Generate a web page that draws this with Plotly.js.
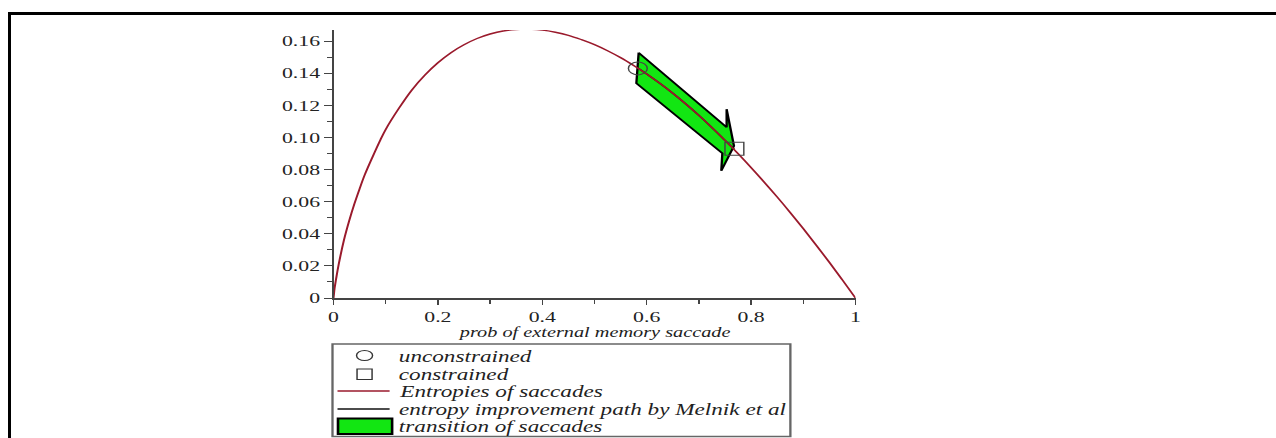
<!DOCTYPE html>
<html>
<head>
<meta charset="utf-8">
<script src="https://cdn.plot.ly/plotly-3.0.1.min.js"></script>
<style>
  html, body { margin: 0; padding: 0; background: #fff; overflow: hidden; }
  #wrap { position: absolute; left: 0; top: 0; width: 1276px; height: 438px; overflow: hidden; }
  #chart { position: absolute; left: 0; top: 0; transform-origin: 0 0; }
  #bl { position: absolute; left: 8px; top: 12px; width: 3px; height: 430px; background: #000; }
  #bt { position: absolute; left: 8px; top: 12px; width: 1280px; height: 2.5px; background: #000; }
</style>
</head>
<body>
<div id="wrap">
  <div id="chart"></div>
  <div id="bl"></div>
  <div id="bt"></div>
</div>
<script>
// ---- data ----
const probX = [0, 0.001, 0.002, 0.003, 0.005, 0.01, 0.02, 0.03, 0.04, 0.05, 0.06, 0.075, 0.09, 0.1, 0.125, 0.15, 0.175, 0.2, 0.225, 0.25, 0.275, 0.3, 0.325, 0.35, 0.375, 0.4, 0.425, 0.45, 0.475, 0.5, 0.525, 0.55, 0.575, 0.6, 0.625, 0.65, 0.675, 0.7, 0.725, 0.75, 0.775, 0.8, 0.825, 0.85, 0.875, 0.9, 0.925, 0.95, 0.975, 1];
const entropyY = [0, 0.003, 0.006, 0.008, 0.012, 0.021, 0.036, 0.048, 0.0586, 0.068, 0.0768, 0.088, 0.0986, 0.105, 0.118, 0.1295, 0.1388, 0.1465, 0.1528, 0.1577, 0.1616, 0.1644, 0.1663, 0.1672, 0.1674, 0.1668, 0.1655, 0.1636, 0.1609, 0.1578, 0.154, 0.1497, 0.1448, 0.1395, 0.1337, 0.1275, 0.1208, 0.1137, 0.1061, 0.0982, 0.0899, 0.0812, 0.0722, 0.0629, 0.0532, 0.0432, 0.0328, 0.0222, 0.0112, 0];

const pathX = [0.583, 0.6, 0.625, 0.65, 0.675, 0.7, 0.725, 0.75, 0.768];
const pathY = [0.1432, 0.1395, 0.1337, 0.1275, 0.1208, 0.1137, 0.1061, 0.0982, 0.0925];

const unconstrainedX = [0.583];
const unconstrainedY = [0.143];
const constrainedX = [0.768];
const constrainedY = [0.093];

const arrowX = [0.5846, 0.7531, 0.7531, 0.7672, 0.7429, 0.7449, 0.5802, 0.5846];
const arrowY = [0.1528, 0.1064, 0.1176, 0.0947, 0.0793, 0.0902, 0.1338, 0.1528];

const xTickVals = [0, 0.2, 0.4, 0.6, 0.8, 1];
const xTickText = ["0", "0.2", "0.4", "0.6", "0.8", "1"];
const yTickVals = [0, 0.02, 0.04, 0.06, 0.08, 0.10, 0.12, 0.14, 0.16];
const yTickText = ["0", "0.02", "0.04", "0.06", "0.08", "0.10", "0.12", "0.14", "0.16"];

const legendNames = ["unconstrained", "constrained", "Entropies of saccades", "entropy improvement path by Melnik et al", "transition of saccades"];
const xTitle = "prob of external memory saccade";

// ---- layout geometry (picture is horizontally stretched) ----
const S = 1.45;
const FULLW = 1276, H = 438;
const W = FULLW / S;
const PX0 = 334, PX1 = 855, PY0 = 298, PY1 = 30;
const L = PX0 / S, PW = (PX1 - PX0) / S, R = W - L - PW;
const T = PY1, B = H - PY0;
const X = px => (px / S - L) / PW;
const Y = py => (PY0 - py) / (PY0 - PY1);

document.getElementById('chart').style.transform = 'scaleX(' + S + ')';

const serif = 'Liberation Serif, Times New Roman, serif';
const red = '#9a1a2c';
const green = '#12e612';

const traces = [
  { x: arrowX, y: arrowY, type: 'scatter', mode: 'lines', fill: 'toself', fillcolor: green,
    line: { color: '#000', width: 1.6 }, hoverinfo: 'skip', showlegend: false },
  { x: pathX, y: pathY, type: 'scatter', mode: 'lines', line: { color: '#2a0808', width: 1.3, shape: 'spline', smoothing: 1 },
    showlegend: false },
  { x: probX, y: entropyY, type: 'scatter', mode: 'lines', line: { color: red, width: 1.4, shape: 'spline', smoothing: 1 },
    showlegend: false },
  { x: unconstrainedX, y: unconstrainedY, type: 'scatter', mode: 'markers',
    marker: { symbol: 'circle-open', size: 13, color: '#444', line: { width: 1 } }, showlegend: false },
  { x: constrainedX, y: constrainedY, type: 'scatter', mode: 'markers',
    marker: { symbol: 'square-open', size: 13, color: '#444', line: { width: 1 } }, showlegend: false }
];

const shapes = [
  { type: 'rect', xref: 'paper', yref: 'paper', x0: X(333), x1: X(790), y0: Y(436.5), y1: Y(344),
    line: { color: '#666', width: 1.6 }, fillcolor: 'rgba(0,0,0,0)' },
  { type: 'circle', xref: 'paper', yref: 'paper', x0: X(357), x1: X(373), y0: Y(360.5), y1: Y(350.5),
    line: { color: '#333', width: 1 } },
  { type: 'rect', xref: 'paper', yref: 'paper', x0: X(357.5), x1: X(372.5), y0: Y(379.5), y1: Y(369),
    line: { color: '#333', width: 1 } },
  { type: 'line', xref: 'paper', yref: 'paper', x0: X(338), x1: X(390), y0: Y(391), y1: Y(391),
    line: { color: red, width: 1.5 } },
  { type: 'line', xref: 'paper', yref: 'paper', x0: X(338), x1: X(390), y0: Y(409), y1: Y(409),
    line: { color: '#111', width: 1.6 } },
  { type: 'rect', xref: 'paper', yref: 'paper', x0: X(338.5), x1: X(392.5), y0: Y(434), y1: Y(418.5),
    line: { color: '#000', width: 1.8 }, fillcolor: green }
];

const legendYs = [356.5, 374, 391.5, 409.5, 427];
const annotations = legendNames.map((t, i) => ({
  text: t, xref: 'paper', yref: 'paper', x: X(396), y: Y(legendYs[i]), xanchor: 'left', yanchor: 'middle',
  showarrow: false, font: { family: serif, size: 16, color: '#222', style: 'italic' }
}));
annotations.push({
  text: xTitle, xref: 'paper', yref: 'paper', x: 0.5, y: Y(332), xanchor: 'center', yanchor: 'middle',
  showarrow: false, font: { family: serif, size: 14, color: '#222', style: 'italic' }
});

const layout = {
  width: W, height: H,
  margin: { l: L, r: R, t: T, b: B, pad: 0 },
  paper_bgcolor: 'rgba(0,0,0,0)', plot_bgcolor: 'rgba(0,0,0,0)',
  showlegend: false,
  xaxis: {
    range: [0, 1], showgrid: false, zeroline: false, showline: true, linecolor: '#444', linewidth: 1.5,
    tickmode: 'array', tickvals: xTickVals, ticktext: xTickText,
    ticks: 'outside', ticklen: 5, tickwidth: 1, tickcolor: '#444',
    minor: { tickmode: 'linear', tick0: 0, dtick: 0.1, ticks: 'outside', ticklen: 4, tickcolor: '#444', showgrid: false },
    tickfont: { family: serif, size: 15, color: '#222' }
  },
  yaxis: {
    range: [0, 0.1669], showgrid: false, zeroline: false, showline: true, linecolor: '#444', linewidth: 1.3,
    tickmode: 'array', tickvals: yTickVals, ticktext: yTickText,
    ticks: 'outside', ticklen: 5, tickwidth: 1, tickcolor: '#444',
    minor: { tickmode: 'linear', tick0: 0, dtick: 0.01, ticks: 'outside', ticklen: 3, tickcolor: '#444', showgrid: false },
    tickfont: { family: serif, size: 15, color: '#222' }
  },
  shapes: shapes,
  annotations: annotations
};

Plotly.newPlot('chart', traces, layout, { displayModeBar: false, staticPlot: true });
</script>
</body>
</html>
